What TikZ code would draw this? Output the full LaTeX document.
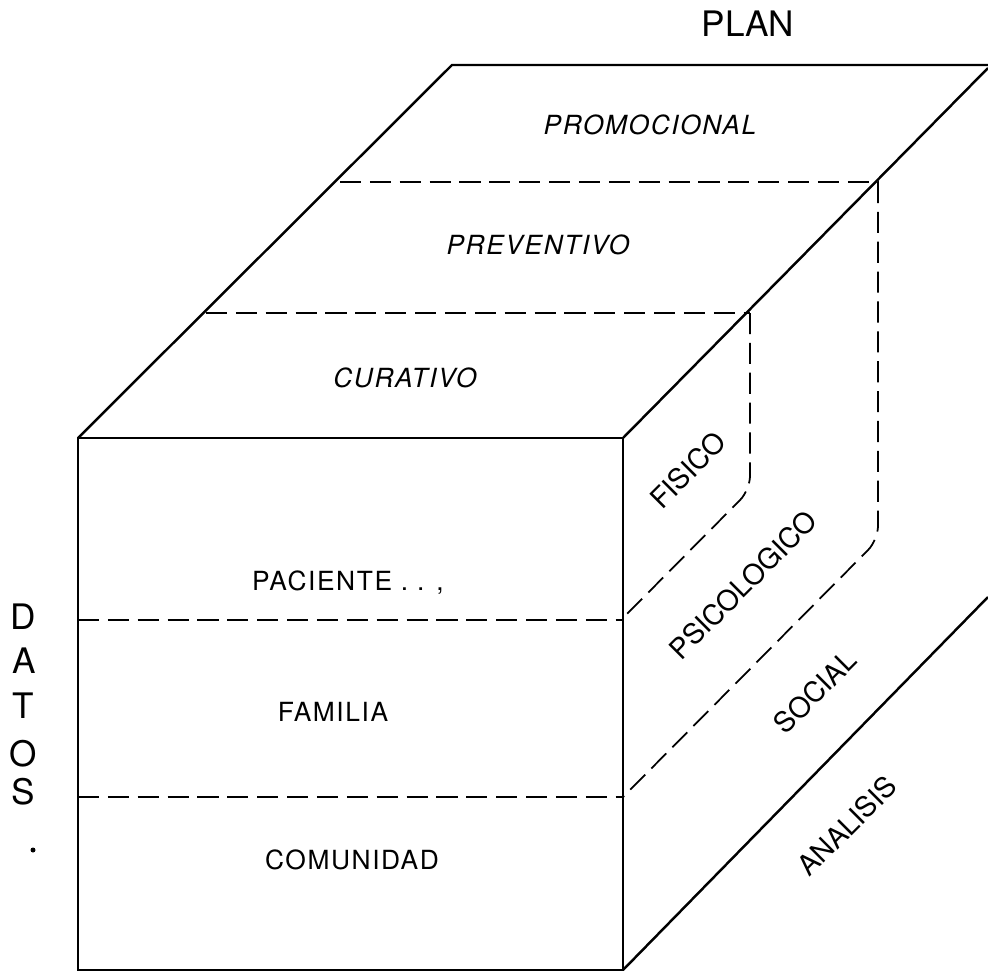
\documentclass[tikz,border=0pt]{standalone}
\usepackage{fontspec}
\setmainfont{TeX Gyre Heros}
\newfontfamily\spacedfont[LetterSpace=6]{TeX Gyre Heros}
\tikzset{
  edgeline/.style={line width=1.4pt},
  dashline/.style={line width=1pt, dash pattern=on 12pt off 5pt},
  planlabel/.style={font=\spacedfont\fontsize{15}{18}\selectfont\itshape},
  datalabel/.style={font=\spacedfont\fontsize{15}{18}\selectfont},
  sidelabel/.style={font=\fontsize{16}{19}\selectfont, rotate=45, inner sep=1pt},
  letter/.style={font=\fontsize{20}{24}\selectfont, inner sep=0pt},
}
\begin{document}
\begin{tikzpicture}[x=0.02cm,y=-0.02cm]
            \useasboundingbox (0,0) rectangle (988,974);
            % cube corners
            \coordinate (fl) at (78,438);
            \coordinate (fr) at (623,438);
            \coordinate (bl) at (78,970);
            \coordinate (br) at (623,970);
            \coordinate (tl) at (452,65);
            \coordinate (tr) at (988,65);
            \draw [edgeline] (bl) -- (fl) -- (fr) -- (br) -- cycle;
            \draw [edgeline] (fl) -- (tl) -- (tr);
            \draw [edgeline] (fr) -- (988,68);
            \draw [edgeline] (br) -- (988,597);
            % top face divisions
            \draw [dashline] (340,182) -- (878,182);
            \draw [dashline] (206,313) -- (750,313);
            % front face divisions
            \draw [dashline] (fl |- 0,620) -- (fr |- 0,620);
            \draw [dashline] (fl |- 0,797) -- (fr |- 0,797);
            % right face divisions
            \draw [dashline, rounded corners=8pt] (750,313) -- (750,490) -- (623,618);
            \draw [dashline, rounded corners=8pt] (878,182) -- (878,540) -- (623,797);
            % labels
            \node [font=\fontsize{20}{24}\selectfont] (plan) at (748,24) {PLAN};
            \node [planlabel] (promo) at (650,125) {PROMOCIONAL};
            \node [planlabel] (preven) at (538,245) {PREVENTIVO};
            \node [planlabel] (cura) at (405,378) {CURATIVO};
            \node [datalabel] (pac) at (348,583) {PACIENTE . . ,};
            \node [datalabel] (fam) at (333,712) {FAMILIA};
            \node [datalabel] (com) at (352,860) {COMUNIDAD};
            \node [sidelabel] (fis) at (688,470) {FISICO};
            \node [sidelabel] (psi) at (743,585) {PSICOLOGICO};
            \node [sidelabel] (soc) at (815,692) {SOCIAL};
            \node [sidelabel] (ana) at (847,826) {ANALISIS};
            % DATOS
            \node [letter] (d1) at (23,617) {D};
            \node [letter] (d2) at (24,661) {A};
            \node [letter] (d3) at (23,706) {T};
            \node [letter] (d4) at (23,754) {O};
            \node [letter] (d5) at (23,792) {S};
            \fill (33,850) circle (2.5);
        \end{tikzpicture}
\end{document}
